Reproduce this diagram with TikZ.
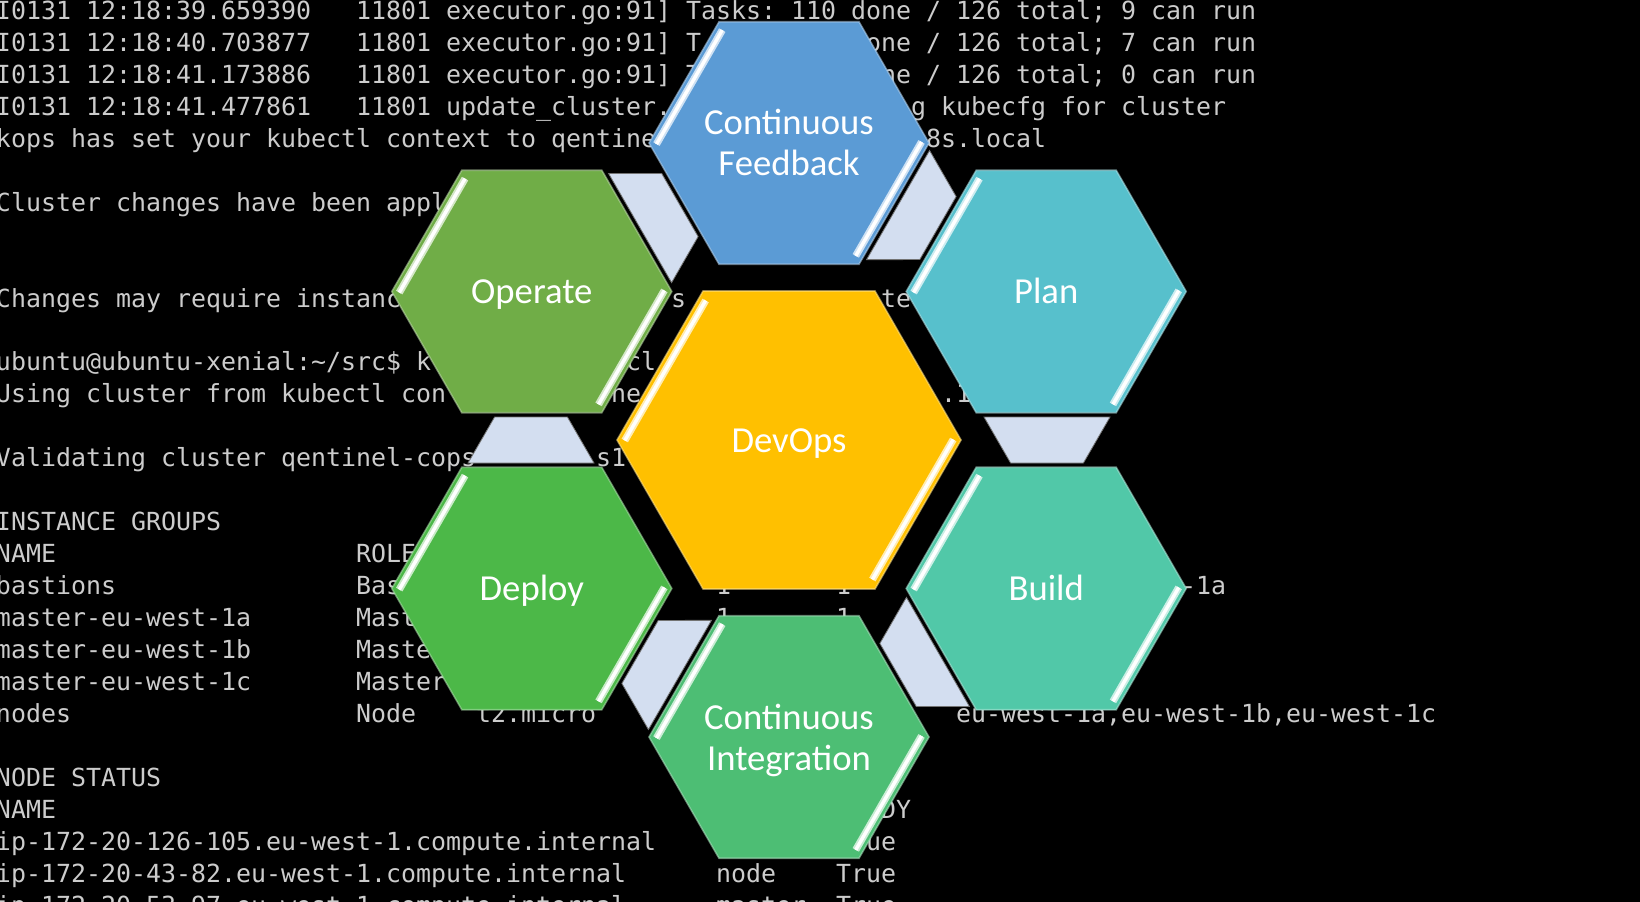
\documentclass[tikz,border=0pt]{standalone}
\usepackage{fontspec}
\newfontfamily\termfont{DejaVu Sans Mono}
\newfontfamily\hexfont{Carlito}
\definecolor{termgray}{RGB}{204,204,204}
\definecolor{cfblue}{RGB}{91,155,213}
\definecolor{planteal}{RGB}{87,192,204}
\definecolor{buildgreen}{RGB}{81,200,168}
\definecolor{cigreen}{RGB}{77,190,116}
\definecolor{deploygreen}{RGB}{76,184,72}
\definecolor{operategreen}{RGB}{112,173,71}
\definecolor{devopsgold}{RGB}{255,192,0}
\definecolor{linkfill}{RGB}{211,222,240}

\tikzset{
  term/.style={inner sep=0pt, outer sep=0pt, text=termgray, anchor=base west,
    font=\termfont\fontsize{18.69pt}{24pt}\selectfont\frenchspacing},
  hexlabel/.style={inner sep=0pt, outer sep=0pt, text=white, anchor=base,
    font=\hexfont\fontsize{27.5pt}{31pt}\selectfont},
  linkshape/.style={fill=linkfill, draw=black!55, line width=0.6pt, line join=miter},
}

% name, row, column, text
\newcommand{\termline}[4]{\node[term] (#1) at ({-4+15*#3},{19.5+31.95*#2}) {#4};}

% cx, cy, R, colour
\newcommand{\hexcell}[4]{%
  \begin{scope}[shift={(#1,#2)}]
    \pgfmathsetmacro{\hR}{#3}
    \pgfmathsetmacro{\hH}{0.8660254*#3}
    \pgfmathsetmacro{\hHf}{0.5*#3}
    \fill[#4] (-\hR,0) -- (-\hHf,-\hH) -- (\hHf,-\hH) -- (\hR,0) -- (\hHf,\hH) -- (-\hHf,\hH) -- cycle;
    \draw[#4!45!white, line width=1.2pt, opacity=0.55, line join=miter]
      (-\hR,0) -- (-\hHf,-\hH) -- (\hHf,-\hH) -- (\hR,0) -- (\hHf,\hH) -- (-\hHf,\hH) -- cycle;
    \pgfmathsetmacro{\sax}{-0.52*#3+6.06}
    \pgfmathsetmacro{\say}{-0.96*\hH+3.5}
    \pgfmathsetmacro{\sbx}{-0.99*#3+6.06}
    \pgfmathsetmacro{\sby}{-0.02*\hH+3.5}
    \pgfmathsetmacro{\tax}{0.52*#3-6.06}
    \pgfmathsetmacro{\tay}{0.96*\hH-3.5}
    \pgfmathsetmacro{\tbx}{0.99*#3-6.06}
    \pgfmathsetmacro{\tby}{0.02*\hH-3.5}
    \draw[#4!30!white, line width=5.5pt] (\sax,\say) -- (\sbx,\sby);
    \draw[white, line width=2.6pt] (\sax,\say) -- (\sbx,\sby);
    \draw[#4!30!white, line width=5.5pt] (\tax,\tay) -- (\tbx,\tby);
    \draw[white, line width=2.6pt] (\tax,\tay) -- (\tbx,\tby);
  \end{scope}}

\begin{document}
\begin{tikzpicture}[x=0.75pt, y=-0.75pt]
\useasboundingbox (0,0) rectangle (1640,902);
\fill[black] (0,0) rectangle (1640,902);
\clip (0,0) rectangle (1640,902);

% terminal background text
\termline{t0a}{0}{0}{I0131 12:18:39.659390}
\termline{t0b}{0}{24}{11801 executor.go:91] Tasks: 110 done / 126 total; 9 can run}
\termline{t1a}{1}{0}{I0131 12:18:40.703877}
\termline{t1b}{1}{24}{11801 executor.go:91] T}
\termline{t1c}{1}{57}{done / 126 total; 7 can run}
\termline{t2a}{2}{0}{I0131 12:18:41.173886}
\termline{t2b}{2}{24}{11801 executor.go:91] T}
\termline{t2c}{2}{57}{done / 126 total; 0 can run}
\termline{t3a}{3}{0}{I0131 12:18:41.477861}
\termline{t3b}{3}{24}{11801 update\_cluster.}
\termline{t3c}{3}{61}{g kubecfg for cluster}
\termline{t4a}{4}{0}{kops has set your kubectl context to qentine}
\termline{t4b}{4}{62}{8s.local}
\termline{t6}{6}{0}{Cluster changes have been appl}
\termline{t9a}{9}{0}{Changes may require instanc}
\termline{t9b}{9}{45}{s}
\termline{t9c}{9}{59}{te}
\termline{t11a}{11}{0}{ubuntu@ubuntu-xenial:\textasciitilde/src\$ k}
\termline{t11b}{11}{42}{cl}
\termline{t12a}{12}{0}{Using cluster from kubectl con}
\termline{t12b}{12}{41}{ne}
\termline{t12c}{12}{63}{.1}
\termline{t14a}{14}{0}{Validating cluster qentinel-cops}
\termline{t14b}{14}{40}{s1}
\termline{t16}{16}{0}{INSTANCE GROUPS}
\termline{t17a}{17}{0}{NAME}
\termline{t17b}{17}{24}{ROLE}
\termline{t18a}{18}{0}{bastions}
\termline{t18b}{18}{24}{Bas}
\termline{t18c}{18}{48}{1}
\termline{t18d}{18}{56}{1}
\termline{t18e}{18}{79}{-1a}
\termline{t19a}{19}{0}{master-eu-west-1a}
\termline{t19b}{19}{24}{Mast}
\termline{t19c}{19}{48}{1}
\termline{t19d}{19}{56}{1}
\termline{t20a}{20}{0}{master-eu-west-1b}
\termline{t20b}{20}{24}{Maste}
\termline{t21a}{21}{0}{master-eu-west-1c}
\termline{t21b}{21}{24}{Master}
\termline{t22a}{22}{0}{nodes}
\termline{t22b}{22}{24}{Node}
\termline{t22c}{22}{32}{t2.micro}
\termline{t22d}{22}{64}{eu-west-1a,eu-west-1b,eu-west-1c}
\termline{t24}{24}{0}{NODE STATUS}
\termline{t25a}{25}{0}{NAME}
\termline{t25b}{25}{59}{DY}
\termline{t26a}{26}{0}{ip-172-20-126-105.eu-west-1.compute.internal}
\termline{t26b}{26}{58}{ue}
\termline{t27a}{27}{0}{ip-172-20-43-82.eu-west-1.compute.internal}
\termline{t27b}{27}{48}{node}
\termline{t27c}{27}{56}{True}
\termline{t28a}{28}{0}{ip-172-20-53-97.eu-west-1.compute.internal}
\termline{t28b}{28}{48}{master}
\termline{t28c}{28}{56}{True}

% connectors between the outer hexagons
\foreach \k in {0,...,5}{
  \begin{scope}[shift={(789,440)}, rotate=60*\k]
    \path[linkshape] (195,-23) -- (321,-23) -- (294.4,23) -- (221.6,23) -- cycle;
  \end{scope}
}

% hexagons
\hexcell{789}{143}{140}{cfblue}
\hexcell{1046.2}{291.5}{140}{planteal}
\hexcell{1046.2}{588.5}{140}{buildgreen}
\hexcell{789}{737}{140}{cigreen}
\hexcell{531.8}{588.5}{140}{deploygreen}
\hexcell{531.8}{291.5}{140}{operategreen}
\hexcell{789}{440}{172}{devopsgold}

% labels
\node[hexlabel] (cf1) at (789,135) {Continuous};
\node[hexlabel] (cf2) at (789,176) {Feedback};
\node[hexlabel] (plan) at (1046.2,303.5) {Plan};
\node[hexlabel] (build) at (1046.2,600) {Build};
\node[hexlabel] (ci1) at (789,729) {Continuous};
\node[hexlabel] (ci2) at (789,770) {Integration};
\node[hexlabel] (deploy) at (531.8,600) {Deploy};
\node[hexlabel] (operate) at (531.8,303.5) {Operate};
\node[hexlabel] (devops) at (789,452) {DevOps};
\end{tikzpicture}
\end{document}
